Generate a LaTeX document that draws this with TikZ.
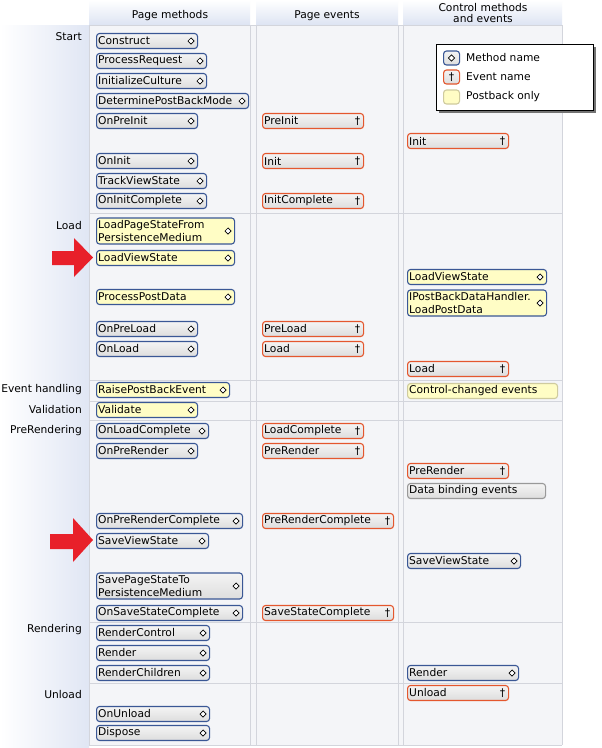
\documentclass[tikz,border=0pt]{standalone}
\usepackage{fontspec}
\setmainfont{DejaVu Sans}
\usetikzlibrary{shapes.geometric}
\definecolor{methB}{HTML}{3A5795}
\definecolor{evB}{HTML}{E4572E}
\definecolor{yel}{HTML}{FFFDC5}
\definecolor{yelB}{HTML}{CFCB9E}
\definecolor{boxT}{HTML}{F4F4F4}
\definecolor{boxB}{HTML}{DDDDDD}
\definecolor{gridL}{HTML}{D3D5DC}
\definecolor{bodyF}{HTML}{F4F5F8}
\definecolor{headB}{HTML}{DDE4F3}
\definecolor{sideB}{HTML}{E0E6F4}
\definecolor{arrR}{HTML}{E8202A}
\newcommand\fs{\fontsize{10.7}{12.5}\selectfont}
\tikzset{
  box/.style={rounded corners=3pt, line width=1.1pt, minimum height=15pt, inner sep=0pt, anchor=west},
  meth/.style={box, draw=methB, top color=boxT, bottom color=boxB},
  ev/.style={box, draw=evB, top color=boxT, bottom color=boxB},
  methY/.style={box, draw=methB, fill=yel},
  plainY/.style={box, draw=yelB, fill=yel},
  plainG/.style={box, draw=gray!80, top color=boxT, bottom color=boxB},
  tall/.style={minimum height=26pt},
  lbl/.style={anchor=west, inner sep=0pt, font=\fs, align=left},
  rowlbl/.style={anchor=east, inner sep=0pt, font=\fs},
  hdr/.style={inner sep=0pt, font=\fs, align=center},
  dia/.style={diamond, draw=black, line width=0.7pt, minimum width=6.5pt, minimum height=6.5pt, inner sep=0pt, fill=white},
  dag/.style={inner sep=0pt, font=\fs},
  grid/.style={draw=gridL, line width=0.9pt},
  redarrow/.style={fill=arrR, draw=none}
}
% name, style, x1, width, yc, text
\newcommand\mb[6]{%
  \node[#2, minimum width=#4pt] (#1) at (#3,#5) {};
  \node[lbl] (#1t) at ([xshift=2pt]#1.west) {#6};
  \node[dia] (#1s) at ([xshift=-7pt]#1.east) {};}
\newcommand\eb[6]{%
  \node[#2, minimum width=#4pt] (#1) at (#3,#5) {};
  \node[lbl] (#1t) at ([xshift=2pt]#1.west) {#6};
  \node[dag] (#1s) at ([xshift=-6.5pt]#1.east) {†};}
\newcommand\pb[6]{%
  \node[#2, minimum width=#4pt] (#1) at (#3,#5) {};
  \node[lbl] (#1t) at ([xshift=2pt]#1.west) {#6};}
\begin{document}
\begin{tikzpicture}[x=1pt,y=-1pt]
\useasboundingbox (0,0) rectangle (602,748);
\fill[white] (0,0) rectangle (602,748);
% side gradient
\shade[left color=white, right color=sideB] (0,25) rectangle (89,748);
% headers
\shade[top color=white, bottom color=headB] (89,0) rectangle (250,25);
\shade[top color=white, bottom color=headB] (256,0) rectangle (398,25);
\shade[top color=white, bottom color=headB] (403,0) rectangle (562,25);
% body
\fill[bodyF] (89,25) rectangle (562,745);
% grid
\foreach \x in {89.5,250,256.5,398,403,562} \draw[grid] (\x,25) -- (\x,745);
\foreach \y in {25,213,380,401,420,622,683,745} \draw[grid] (89,\y) -- (562,\y);
% headers text
\node[hdr] (h1) at (170,16) {Page methods};
\node[hdr] (h2) at (327,16) {Page events};
\node[hdr] (h3) at (483,13.5) {Control methods\\[-1.5pt]and events};
% row labels
\node[rowlbl] (rStart) at (82,37) {Start};
\node[rowlbl] (rLoad) at (82,226) {Load};
\node[rowlbl] (rEv) at (82,390) {Event handling};
\node[rowlbl] (rVal) at (82,410) {Validation};
\node[rowlbl] (rPre) at (82,431) {PreRendering};
\node[rowlbl] (rRen) at (82,630) {Rendering};
\node[rowlbl] (rUn) at (82,695) {Unload};
% column 1
\mb{construct}{meth}{96}{101}{41}{Construct}
\mb{procreq}{meth}{96}{110}{61}{ProcessRequest}
\mb{initcult}{meth}{96}{110}{81}{InitializeCulture}
\mb{detpbm}{meth}{96}{152}{101}{DeterminePostBackMode}
\mb{onpreinit}{meth}{96}{101}{121}{OnPreInit}
\mb{oninit}{meth}{96}{101}{161}{OnInit}
\mb{trackvs}{meth}{96}{110}{181}{TrackViewState}
\mb{oninitc}{meth}{96}{110}{201}{OnInitComplete}
\mb{lpsfpm}{methY,tall}{96}{138}{231}{LoadPageStateFrom\\PersistenceMedium}
\mb{loadvs}{methY}{96}{138}{258}{LoadViewState}
\mb{ppd}{methY}{96}{138}{297}{ProcessPostData}
\mb{onpreload}{meth}{96}{101}{329}{OnPreLoad}
\mb{onload}{meth}{96}{101}{349}{OnLoad}
\mb{rpbe}{methY}{96}{133}{390}{RaisePostBackEvent}
\mb{validate}{methY}{96}{101}{410}{Validate}
\mb{onloadc}{meth}{96}{112}{431}{OnLoadComplete}
\mb{onprerender}{meth}{96}{101}{451}{OnPreRender}
\mb{onprerc}{meth}{96}{146}{521}{OnPreRenderComplete}
\mb{savevs}{meth}{96}{112}{541}{SaveViewState}
\mb{spstpm}{meth,tall}{96}{146}{586}{SavePageStateTo\\PersistenceMedium}
\mb{onssc}{meth}{96}{146}{613}{OnSaveStateComplete}
\mb{renderctl}{meth}{96}{113}{633}{RenderControl}
\mb{render}{meth}{96}{113}{653}{Render}
\mb{renderch}{meth}{96}{113}{673}{RenderChildren}
\mb{onunload}{meth}{96}{113}{714}{OnUnload}
\mb{dispose}{meth}{96}{113}{733}{Dispose}
% column 2
\eb{preinit}{ev}{262}{101}{121}{PreInit}
\eb{init}{ev}{262}{101}{161}{Init}
\eb{initc}{ev}{262}{101}{201}{InitComplete}
\eb{preload}{ev}{262}{101}{329}{PreLoad}
\eb{load}{ev}{262}{101}{349}{Load}
\eb{loadc}{ev}{262}{101}{431}{LoadComplete}
\eb{prerender}{ev}{262}{101}{451}{PreRender}
\eb{prerc}{ev}{262}{131}{521}{PreRenderComplete}
\eb{ssc}{ev}{262}{131}{613}{SaveStateComplete}
% column 3
\eb{cinit}{ev}{407}{101}{141}{Init}
\mb{cloadvs}{methY}{407}{139}{277}{LoadViewState}
\mb{cpbdh}{methY,tall}{407}{139}{303}{IPostBackDataHandler.\\LoadPostData}
\eb{cload}{ev}{407}{101}{369}{Load}
\pb{ccev}{plainY}{407}{150}{391}{Control-changed events}
\eb{cprerender}{ev}{407}{101}{471}{PreRender}
\pb{cdbe}{plainG}{407}{138}{491}{Data binding events}
\mb{csavevs}{meth}{407}{113}{561}{SaveViewState}
\mb{crender}{meth}{407}{111}{673}{Render}
\eb{cunload}{ev}{407}{101}{693}{Unload}
% legend
\fill[black!55] (438.5,46.5) rectangle (595.5,112.5);
\node[draw=black, fill=white, line width=1.1pt, minimum width=157pt, minimum height=66pt, inner sep=0pt, anchor=north west] (legend) at (436,44) {};
\node[meth, minimum width=16pt, minimum height=14pt] (lg1) at (443,58) {};
\node[dia] (lg1s) at (lg1.center) {};
\node[lbl] (lg1t) at (466,58) {Method name};
\node[ev, minimum width=16pt, minimum height=14pt] (lg2) at (443,77) {};
\node[dag] (lg2s) at (lg2.center) {†};
\node[lbl] (lg2t) at (466,77) {Event name};
\node[plainY, minimum width=16pt, minimum height=14pt] (lg3) at (443,97) {};
\node[lbl] (lg3t) at (466,97) {Postback only};
% red arrows
\fill[redarrow] (52,251) -- (74,251) -- (74,238) -- (93,257.5) -- (74,277) -- (74,265) -- (52,265) -- cycle;
\fill[redarrow] (50,534) -- (73,534) -- (73,518) -- (93,540) -- (73,562) -- (73,549) -- (50,549) -- cycle;
\end{tikzpicture}
\end{document}
